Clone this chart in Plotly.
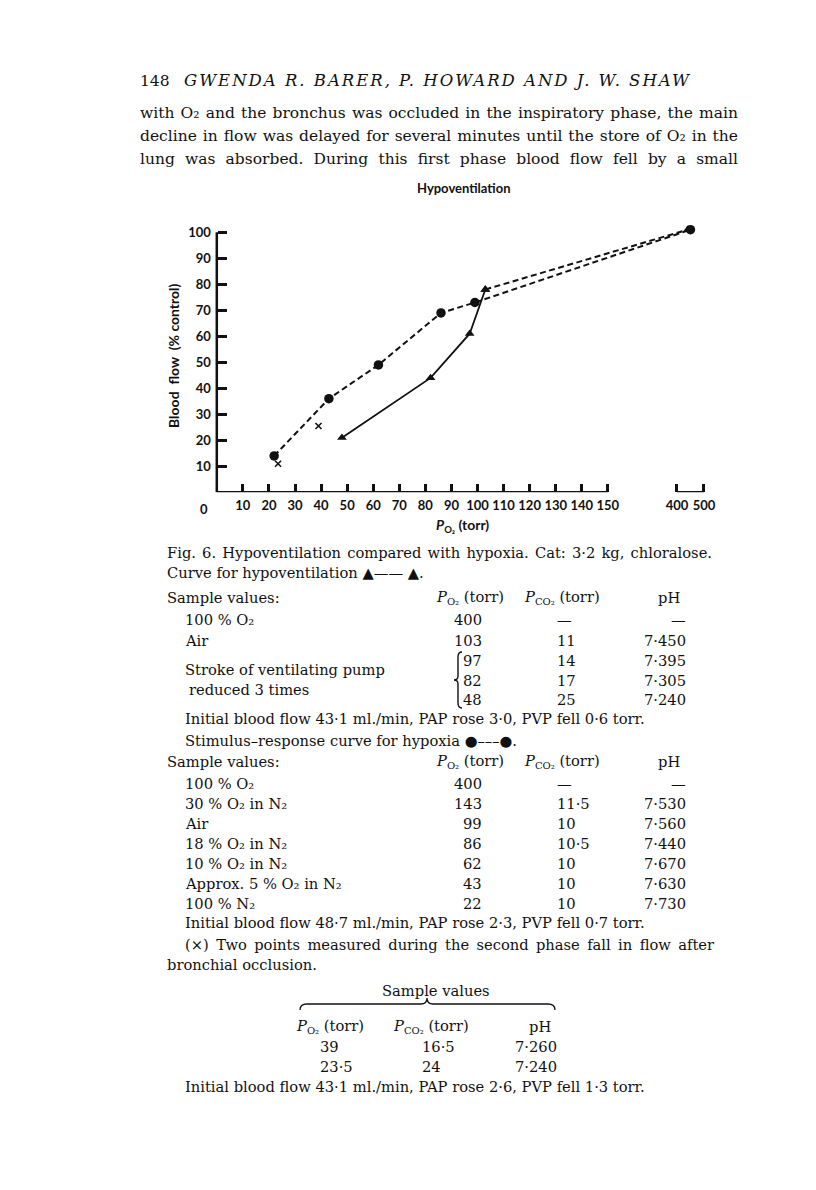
import json
import plotly.graph_objects as go

W, H = 816, 1190


def px(x):
    return x / W


def py(y):
    return 1 - y / H


# ---------------- chart data ----------------
hypoxia_po2 = [22, 43, 62, 86, 99, 450]
hypoxia_flow = [14, 36, 49, 69, 73, 101]
hypovent_po2 = [48, 82, 97, 103, 440]
hypovent_flow = [21, 44, 61, 78, 101]
occlusion_po2 = [39, 23.5]
occlusion_flow = [25.5, 11]
x_ticks_low = [10, 20, 30, 40, 50, 60, 70, 80, 90, 100, 110, 120, 130, 140, 150]
x_ticks_high = [400, 500]
y_ticks = [10, 20, 30, 40, 50, 60, 70, 80, 90, 100]

# broken x axis: 0-150 linear, then a short 400-500 segment
BREAK_LOW, BREAK_HIGH, BREAK_GAP, HIGH_SCALE = 150, 400, 26.5, 0.1036


def xmap(v):
    return v if v <= BREAK_LOW else BREAK_LOW + BREAK_GAP + (v - BREAK_HIGH) * HIGH_SCALE


# ---------------- table data ----------------
t1_labels = ["100 % O₂", "Air"]
t1_po2 = ["400", "103", "97", "82", "48"]
t1_pco2 = ["—", "11", "14", "17", "25"]
t1_ph = ["—", "7·450", "7·395", "7·305", "7·240"]

t2_labels = ["100 % O₂", "30 % O₂ in N₂", "Air", "18 % O₂ in N₂", "10 % O₂ in N₂",
             "Approx. 5 % O₂ in N₂", "100 % N₂"]
t2_po2 = ["400", "143", "99", "86", "62", "43", "22"]
t2_pco2 = ["—", "11·5", "10", "10·5", "10", "10", "10"]
t2_ph = ["—", "7·530", "7·560", "7·440", "7·670", "7·630", "7·730"]

t3_po2 = ["39", "23·5"]
t3_pco2 = ["16·5", "24"]
t3_ph = ["7·260", "7·240"]

SERIF = "DejaVu Serif"
SANS = "Lato"
INK = "#111111"
FS = 14.7  # caption / table font size

fig = go.Figure()

fig.add_trace(go.Scatter(
    x=[xmap(v) for v in hypoxia_po2], y=hypoxia_flow, mode="lines+markers",
    line=dict(color=INK, width=2, dash="6px,3.5px"),
    marker=dict(symbol="circle", size=9.5, color=INK), cliponaxis=False,
    name="Hypoxia"))
fig.add_trace(go.Scatter(
    x=[xmap(v) for v in hypovent_po2[:4]], y=hypovent_flow[:4], mode="lines+markers",
    line=dict(color=INK, width=1.8),
    marker=dict(symbol="triangle-up", size=8.5, color=INK), cliponaxis=False,
    name="Hypoventilation"))
fig.add_trace(go.Scatter(
    x=[xmap(v) for v in hypovent_po2[3:]], y=hypovent_flow[3:], mode="lines+markers",
    line=dict(color=INK, width=2, dash="6px,3.5px"),
    marker=dict(symbol="triangle-up", size=8.5, color=INK), cliponaxis=False,
    name="Hypoventilation (O2)"))
fig.add_trace(go.Scatter(
    x=[xmap(v) for v in occlusion_po2], y=occlusion_flow, mode="markers",
    marker=dict(symbol="x-thin", size=6, line=dict(color=INK, width=1.6)),
    cliponaxis=False, name="Bronchial occlusion"))

# axis line segments (x axis is broken)
for a, b in [(0, BREAK_LOW), (x_ticks_high[0], x_ticks_high[-1])]:
    fig.add_shape(type="line", xref="x", yref="y", x0=xmap(a), x1=xmap(b), y0=0, y1=0,
                  line=dict(color=INK, width=2.5))
fig.add_shape(type="line", xref="x", yref="y", x0=0, x1=0, y0=0, y1=y_ticks[-1],
              line=dict(color=INK, width=2.5))

# pixel geometry: x 0 -> 216.8 px, 2.607 px per torr; y 0 -> 492.3 px, 2.6 px per %
XL, XR = -10, 192
x0px, kx = 216.8, 2.607
y0px, ky = 492.3, 2.6
YT = 106
dom_x = [px(x0px + XL * kx), px(x0px + XR * kx)]
dom_y = [py(y0px), py(y0px - YT * ky)]

tick_font = dict(family=SANS, size=13, color=INK, weight="bold")
fig.update_layout(
    width=W, height=H, margin=dict(l=0, r=0, t=0, b=0, pad=0),
    paper_bgcolor="white", plot_bgcolor="white", showlegend=False,
    xaxis=dict(domain=dom_x, range=[XL, XR], showgrid=False, zeroline=False, showline=False,
               tickmode="array", tickvals=[xmap(v) for v in x_ticks_low + x_ticks_high],
               ticktext=[str(v) for v in x_ticks_low + x_ticks_high],
               ticks="inside", ticklen=8, tickwidth=2.5, tickcolor=INK, tickfont=tick_font,
               ticklabelstandoff=4, anchor="y"),
    yaxis=dict(domain=dom_y, range=[0, YT], showgrid=False, zeroline=False, showline=False,
               tickmode="array", tickvals=y_ticks,
               ticks="inside", ticklen=9, tickwidth=2.5, tickcolor=INK, tickfont=tick_font,
               ticklabelstandoff=6, anchor="free", position=px(x0px)),
)

ann = []


def txt(text, x, y, size=FS, anchor="left", family=SERIF, weight="normal", **kw):
    d = dict(text=text, x=px(x), y=py(y), xref="paper", yref="paper", showarrow=False,
             xanchor=anchor, yanchor="middle", align=anchor if anchor != "center" else "center",
             font=dict(family=family, size=size, color=INK, weight=weight))
    d.update(kw)
    ann.append(d)


def psub(sub):
    # italic P with a lowered, smaller subscript (baseline-shift, no extra spacer tspans)
    return ("<i>P</i><span style='font-size:68%;baseline-shift:-28%'>" + sub + "</span> (torr)")


# chart text
ann.append(dict(text="0", x=-5, y=0, xref="x", yref="y", showarrow=False, xanchor="center",
                yanchor="top", yshift=-7, font=tick_font))
txt("Hypoventilation", 464, 188, size=13, anchor="center", family=SANS, weight="bold")
txt("Blood  flow  (% control)", 173, 356, size=14, anchor="center", family=SANS, weight="bold",
    textangle=-90)
txt(psub("O₂"), 462, 525, size=14, anchor="center", family=SANS, weight="bold")

# page header and body text
txt("148", 138, 81, size=15.5)
txt("<i>GWENDA R. BARER, P. HOWARD AND J. W. SHAW</i>", 182, 81, size=16.5)
body = ["with O₂ and the bronchus was occluded in the inspiratory phase, the main",
        "decline in flow was delayed for several minutes until the store of O₂ in the",
        "lung was absorbed. During this first phase blood flow fell by a small"]
for i, line in enumerate(body):
    txt(line, 138, 113 + 23 * i, size=15.5)

# caption
txt("Fig. 6. Hypoventilation compared with hypoxia. Cat: 3·2 kg, chloralose.", 165, 552)
txt("Curve for hypoventilation ▲—— ▲.", 165, 572)

hdr_po2 = psub("O₂")
hdr_pco2 = psub("CO₂")

# table 1
txt("Sample values:", 165, 597)
txt(hdr_po2, 470, 597, anchor="center")
txt(hdr_pco2, 562, 597, anchor="center")
txt("pH", 669, 597, anchor="center")
rows1 = [619, 640, 660, 680, 699]
for i, lab in enumerate(t1_labels):
    txt(lab, 183, rows1[i])
txt("Stroke of ventilating pump", 183, 669)
txt("reduced 3 times", 187, 689)
for i, y in enumerate(rows1):
    txt(t1_po2[i], 484, y, anchor="right")
    txt(t1_pco2[i], 555, y)
    txt(t1_ph[i], 688, y, anchor="right")
txt("Initial blood flow 43·1 ml./min, PAP rose 3·0, PVP fell 0·6 torr.", 183, 718)
txt("Stimulus–response curve for hypoxia ●–––●.", 183, 740)

# table 2
txt("Sample values:", 165, 762)
txt(hdr_po2, 470, 762, anchor="center")
txt(hdr_pco2, 562, 762, anchor="center")
txt("pH", 669, 762, anchor="center")
rows2 = [783, 803, 823, 843, 863, 883, 903]
for i, y in enumerate(rows2):
    txt(t2_labels[i], 183, y)
    txt(t2_po2[i], 484, y, anchor="right")
    txt(t2_pco2[i], 555, y)
    txt(t2_ph[i], 688, y, anchor="right")
txt("Initial blood flow 48·7 ml./min, PAP rose 2·3, PVP fell 0·7 torr.", 183, 922)
txt("(×) Two points measured during the second phase fall in flow after", 183, 944)
txt("bronchial occlusion.", 165, 964)

# table 3
txt("Sample values", 436, 990, anchor="center")
txt(hdr_po2, 330, 1026, anchor="center")
txt(hdr_pco2, 431, 1026, anchor="center")
txt("pH", 540, 1026, anchor="center")
for i, y in enumerate([1046, 1066]):
    txt(t3_po2[i], 318, y)
    txt(t3_pco2[i], 420, y)
    txt(t3_ph[i], 559, y, anchor="right")
txt("Initial blood flow 43·1 ml./min, PAP rose 2·6, PVP fell 1·3 torr.", 183, 1086)

fig.update_layout(annotations=ann)


def P(pts):
    out = []
    for cmd, coords in pts:
        out.append(cmd + " " + " ".join(f"{px(a):.5f},{py(b):.5f}" for a, b in coords))
    return " ".join(out)


# left curly brace for the ventilation-pump rows
bx, bt, bm, bb = 458, 652, 680, 708
brace1 = P([("M", [(bx + 4, bt)]), ("Q", [(bx, bt), (bx, bt + 5)]), ("L", [(bx, bm - 4)]),
            ("Q", [(bx, bm), (bx - 4, bm)]), ("Q", [(bx, bm), (bx, bm + 4)]),
            ("L", [(bx, bb - 5)]), ("Q", [(bx, bb), (bx + 4, bb)])])
fig.add_shape(type="path", xref="paper", yref="paper", path=brace1,
              line=dict(color=INK, width=1.4))

# horizontal brace over table 3 headers
l, r, m, yb, yt = 300, 555, 427, 1004, 998
brace2 = P([("M", [(l, yb + 6)]), ("Q", [(l, yb), (l + 7, yb)]), ("L", [(m - 6, yb)]),
            ("Q", [(m, yb), (m, yt)]), ("Q", [(m, yb), (m + 6, yb)]), ("L", [(r - 7, yb)]),
            ("Q", [(r, yb), (r, yb + 6)])])
fig.add_shape(type="path", xref="paper", yref="paper", path=brace2,
              line=dict(color=INK, width=1.3))

# justified lines: text prefix -> target width in px (word spacing is stretched)
justify = {"with O": 598, "decline in": 598, "lung was": 598,
           "Fig. 6.": 545, "(×) Two": 530}
# letter-spaced running head: prefix -> target width in px
track = {"GWENDA": 507}

post = ("var d=document.getElementById('{plot_id}');"
        "document.documentElement.style.margin='0';document.body.style.margin='0';"
        "document.body.style.overflow='hidden';"
        "d.style.position='fixed';d.style.left='0px';d.style.top='0px';"
        "var J=" + json.dumps(justify, ensure_ascii=False) + ";"
        "var T=" + json.dumps(track, ensure_ascii=False) + ";"
        "d.querySelectorAll('text.annotation-text').forEach(function(t){"
        "var s=t.textContent;var k;"
        "for(k in J){if(s.indexOf(k)===0){"
        "var w=t.getBBox().width;var n=(s.match(/ /g)||[]).length;"
        "if(n>0&&J[k]>w){t.style.wordSpacing=((J[k]-w)/n)+'px';}}}"
        "for(k in T){if(s.indexOf(k)===0){"
        "var w2=t.getBBox().width;var n2=s.length-1;"
        "if(n2>0&&T[k]>w2){t.style.letterSpacing=((T[k]-w2)/n2)+'px';}}}"
        "});")
fig.write_html("out.html", config={"displayModeBar": False}, post_script=post)
